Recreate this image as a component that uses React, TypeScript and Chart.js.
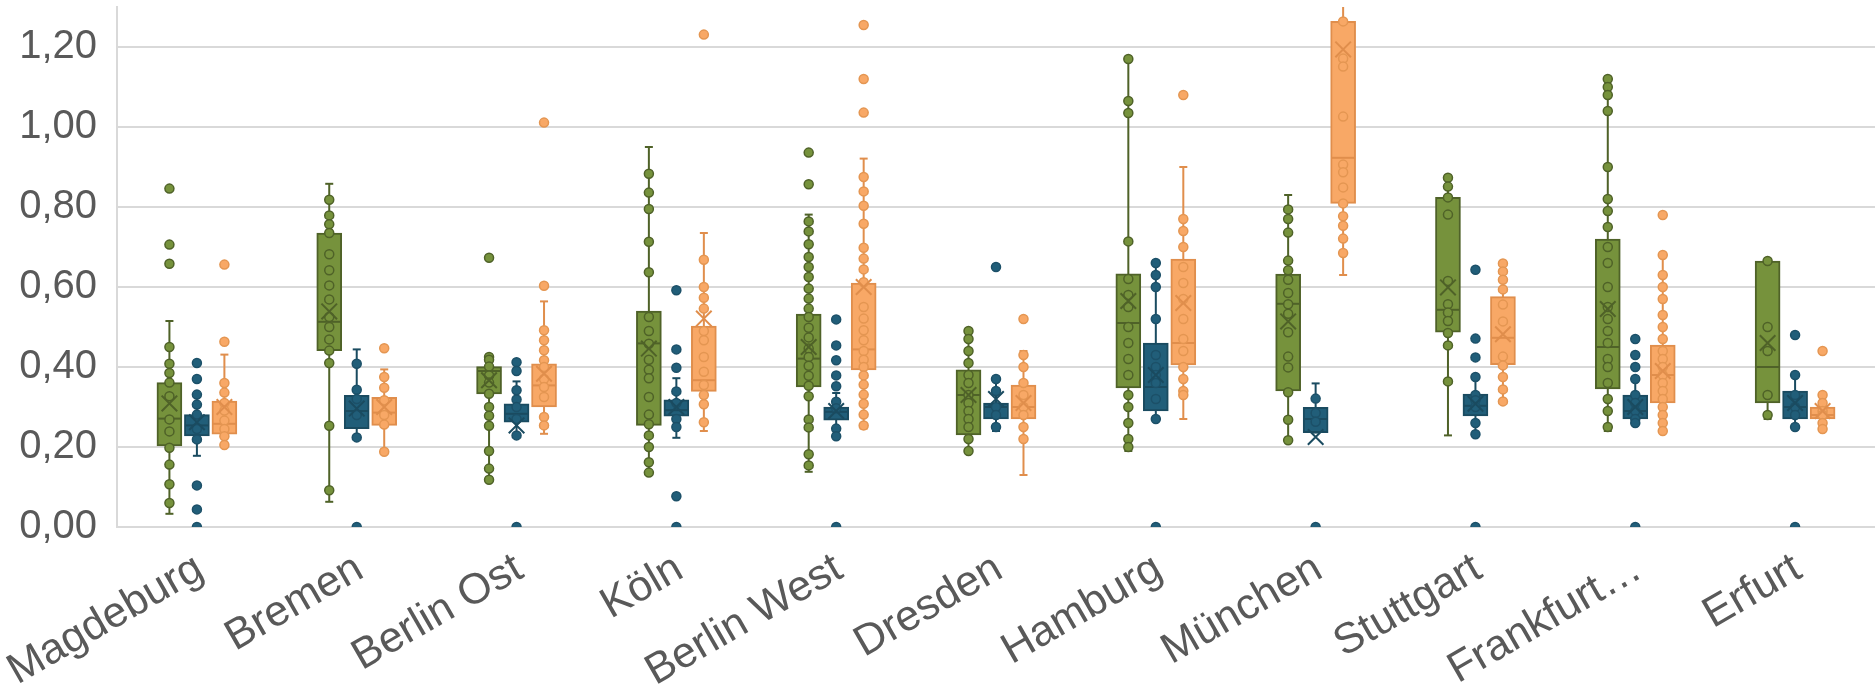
import React, { useEffect, useRef } from 'react';
import { Chart, registerables } from 'chart.js';

Chart.register(...registerables);

const categories = ['Magdeburg', 'Bremen', 'Berlin Ost', 'Köln', 'Berlin West', 'Dresden', 'Hamburg', 'München', 'Stuttgart', 'Frankfurt…', 'Erfurt'];
const yTickValues = [0, 0.2, 0.4, 0.6, 0.8, 1.0, 1.2];

// ---- green series ----
const greenQ1 = [0.203, 0.441, 0.333, 0.254, 0.35, 0.23, 0.348, 0.34, 0.487, 0.345, 0.31];
const greenMedian = [0.271, 0.513, 0.39, 0.459, 0.421, 0.33, 0.51, 0.558, 0.543, 0.45, 0.40];
const greenQ3 = [0.361, 0.735, 0.401, 0.54, 0.532, 0.393, 0.633, 0.632, 0.824, 0.72, 0.665];
const greenMean = [0.309, 0.539, 0.367, 0.446, 0.45, 0.33, 0.565, 0.514, 0.599, 0.545, 0.46];
const greenLow = [0.033, 0.063, 0.118, 0.136, 0.138, 0.19, 0.19, 0.217, 0.229, 0.24, 0.27];
const greenHigh = [0.515, 0.858, 0.425, 0.95, 0.781, 0.49, 1.17, 0.83, 0.873, 1.12, 0.665];
const greenPoints = [
  [0.846, 0.706, 0.658, 0.450, 0.408, 0.385, 0.361, 0.327, 0.269, 0.239, 0.198, 0.156, 0.107, 0.060],
  [0.818, 0.779, 0.757, 0.735, 0.682, 0.642, 0.604, 0.569, 0.525, 0.5, 0.469, 0.441, 0.410, 0.253, 0.092],
  [0.673, 0.425, 0.418, 0.401, 0.379, 0.361, 0.333, 0.300, 0.278, 0.253, 0.190, 0.146, 0.118],
  [0.883, 0.836, 0.795, 0.713, 0.637, 0.525, 0.49, 0.458, 0.418, 0.393, 0.372, 0.325, 0.281, 0.257, 0.229, 0.2, 0.162, 0.136],
  [0.936, 0.857, 0.764, 0.739, 0.707, 0.675, 0.65, 0.625, 0.596, 0.571, 0.546, 0.525, 0.498, 0.474, 0.446, 0.425, 0.403, 0.378, 0.353, 0.327, 0.269, 0.249, 0.182, 0.154],
  [0.49, 0.47, 0.44, 0.41, 0.38, 0.36, 0.33, 0.31, 0.29, 0.27, 0.25, 0.22, 0.19],
  [1.17, 1.065, 1.035, 0.714, 0.62, 0.58, 0.55, 0.50, 0.46, 0.42, 0.38, 0.33, 0.30, 0.26, 0.22, 0.20],
  [0.794, 0.770, 0.736, 0.666, 0.642, 0.618, 0.585, 0.557, 0.533, 0.487, 0.426, 0.399, 0.337, 0.268, 0.217],
  [0.873, 0.851, 0.824, 0.781, 0.615, 0.557, 0.536, 0.515, 0.485, 0.454, 0.364],
  [1.12, 1.10, 1.08, 1.04, 0.90, 0.82, 0.79, 0.75, 0.70, 0.66, 0.60, 0.55, 0.52, 0.49, 0.46, 0.42, 0.40, 0.36, 0.32, 0.29, 0.25],
  [0.665, 0.50, 0.44, 0.33, 0.28],
];

// ---- blue series ----
const blueQ1 = [0.228, 0.246, 0.262, 0.277, 0.267, 0.27, 0.29, 0.236, 0.278, 0.27, 0.27];
const blueMedian = [0.254, 0.29, 0.283, 0.292, 0.288, 0.30, 0.35, 0.27, 0.303, 0.29, 0.30];
const blueQ3 = [0.281, 0.329, 0.308, 0.318, 0.30, 0.31, 0.46, 0.299, 0.332, 0.33, 0.34];
const blueMean = [0.262, 0.296, 0.254, 0.30, 0.29, 0.32, 0.38, 0.225, 0.308, 0.30, 0.31];
const blueLow = [0.178, 0.224, 0.229, 0.223, 0.227, 0.24, 0.27, 0.236, 0.232, 0.26, 0.25];
const blueHigh = [0.331, 0.444, 0.364, 0.372, 0.335, 0.37, 0.66, 0.359, 0.375, 0.37, 0.38];
const bluePoints = [
  [0.410, 0.370, 0.331, 0.306, 0.281, 0.245, 0.219, 0.104, 0.044, 0],
  [0.408, 0.343, 0.32, 0.28, 0.224, 0],
  [0.412, 0.39, 0.342, 0.319, 0.30, 0.27, 0.229, 0],
  [0.592, 0.444, 0.398, 0.339, 0.31, 0.27, 0.25, 0.077, 0],
  [0.519, 0.454, 0.417, 0.379, 0.352, 0.313, 0.297, 0.246, 0.227, 0],
  [0.65, 0.37, 0.34, 0.30, 0.28, 0.25],
  [0.66, 0.63, 0.6, 0.52, 0.43, 0.40, 0.38, 0.36, 0.32, 0.27, 0],
  [0.321, 0.285, 0.263, 0],
  [0.643, 0.471, 0.424, 0.375, 0.330, 0.317, 0.30, 0.26, 0.232, 0],
  [0.47, 0.43, 0.40, 0.37, 0.33, 0.31, 0.29, 0.27, 0.26, 0],
  [0.48, 0.38, 0.33, 0.30, 0.28, 0.25, 0],
];

// ---- orange series ----
const orangeQ1 = [0.232, 0.254, 0.300, 0.339, 0.393, 0.27, 0.405, 0.809, 0.406, 0.31, 0.27];
const orangeMedian = [0.258, 0.286, 0.354, 0.367, 0.444, 0.30, 0.46, 0.923, 0.473, 0.38, 0.28];
const orangeQ3 = [0.315, 0.324, 0.408, 0.502, 0.61, 0.355, 0.67, 1.264, 0.576, 0.455, 0.30];
const orangeMean = [0.30, 0.30, 0.383, 0.521, 0.6, 0.31, 0.56, 1.194, 0.482, 0.39, 0.29];
const orangeLow = [0.205, 0.188, 0.233, 0.24, 0.246, 0.13, 0.27, 0.63, 0.314, 0.24, 0.245];
const orangeHigh = [0.431, 0.394, 0.564, 0.735, 0.921, 0.44, 0.90, 1.34, 0.659, 0.68, 0.33];
const orangePoints = [
  [0.656, 0.463, 0.360, 0.336, 0.31, 0.291, 0.266, 0.245, 0.227, 0.205],
  [0.447, 0.375, 0.348, 0.317, 0.28, 0.256, 0.188],
  [1.011, 0.603, 0.492, 0.467, 0.442, 0.417, 0.40, 0.37, 0.35, 0.325, 0.275, 0.254],
  [1.231, 0.668, 0.6, 0.573, 0.546, 0.49, 0.467, 0.425, 0.388, 0.355, 0.33, 0.307, 0.262],
  [1.255, 1.12, 1.036, 0.875, 0.839, 0.803, 0.758, 0.698, 0.671, 0.644, 0.612, 0.55, 0.521, 0.492, 0.467, 0.44, 0.418, 0.4, 0.379, 0.356, 0.331, 0.308, 0.281, 0.254],
  [0.52, 0.43, 0.40, 0.36, 0.33, 0.30, 0.28, 0.25, 0.22],
  [1.08, 0.77, 0.74, 0.70, 0.65, 0.61, 0.57, 0.52, 0.47, 0.44, 0.40, 0.37, 0.34, 0.33],
  [1.264, 1.171, 1.151, 1.026, 0.906, 0.887, 0.849, 0.809, 0.777, 0.753, 0.721, 0.685],
  [0.659, 0.639, 0.618, 0.594, 0.556, 0.514, 0.426, 0.404, 0.375, 0.344, 0.314],
  [0.78, 0.68, 0.63, 0.60, 0.57, 0.53, 0.50, 0.47, 0.44, 0.42, 0.40, 0.38, 0.36, 0.34, 0.32, 0.30, 0.28, 0.26, 0.24],
  [0.44, 0.33, 0.31, 0.29, 0.28, 0.26, 0.245],
];

const SERIES_OFFSET = 0.172; // in category units
const FONT = "'Liberation Sans', Arial, sans-serif";
const TEXT = '#595959';
const GRID = '#D9D9D9';

const series = [
  { q1: greenQ1, med: greenMedian, q3: greenQ3, mean: greenMean, low: greenLow, high: greenHigh, pts: greenPoints,
    fill: '#76923C', line: '#4F6228', ptFill: '#76923C', ptBorder: '#4F6228' },
  { q1: blueQ1, med: blueMedian, q3: blueQ3, mean: blueMean, low: blueLow, high: blueHigh, pts: bluePoints,
    fill: '#215E79', line: '#1A4B60', ptFill: '#215E79', ptBorder: '#1C5068' },
  { q1: orangeQ1, med: orangeMedian, q3: orangeQ3, mean: orangeMean, low: orangeLow, high: orangeHigh, pts: orangePoints,
    fill: '#F8A866', line: '#E08E4C', ptFill: '#F8A866', ptBorder: '#E49652' },
];

function buildDatasets() {
  const ds: any[] = [];
  series.forEach((s, k) => {
    const off = (k - 1) * SERIES_OFFSET;
    ds.push({
      type: 'bar', order: 40, grouped: false, barThickness: 25,
      data: s.q1.map((q, i) => ({ x: i + off, y: [q, s.q3[i]] })),
      backgroundColor: s.fill, borderColor: s.line, borderWidth: 2, borderSkipped: false,
    });
    ds.push({
      type: 'line', order: 50,
      data: s.low.flatMap((lo, i) => [{ x: i + off, y: lo }, { x: i + off, y: s.high[i] }, { x: i + off, y: null }]),
      borderColor: s.line, borderWidth: 2, pointRadius: 0, spanGaps: false, fill: false,
    });
    ds.push({
      type: 'scatter', order: 45,
      data: s.low.flatMap((lo, i) => [{ x: i + off, y: lo }, { x: i + off, y: s.high[i] }]),
      pointStyle: 'line', pointRadius: 4, borderColor: s.line, pointBorderWidth: 2,
    });
    ds.push({
      type: 'scatter', order: 35,
      data: s.med.map((m, i) => ({ x: i + off, y: m })),
      pointStyle: 'line', pointRadius: 12, borderColor: s.line, pointBorderWidth: 2,
    });
    ds.push({
      type: 'scatter', order: 20,
      data: s.pts.flatMap((arr, i) => arr.map((v) => ({ x: i + off, y: v }))),
      pointStyle: 'circle', pointRadius: 4.5, backgroundColor: s.ptFill, borderColor: s.ptBorder, pointBorderWidth: 1.5,
    });
    ds.push({
      type: 'scatter', order: 10,
      data: s.mean.map((m, i) => ({ x: i + off, y: m })),
      pointStyle: 'crossRot', pointRadius: 11, borderColor: s.line, pointBorderWidth: 2,
    });
  });
  return ds;
}

// Draws the category labels of the x scale, rotated, ending at each tick.
const rotatedLabels = {
  id: 'rotatedLabels',
  afterDraw(chart: any) {
    const scale = chart.scales.x;
    const ctx = chart.ctx;
    const ang = (30 * Math.PI) / 180;
    ctx.save();
    ctx.fillStyle = TEXT;
    ctx.font = `43px ${FONT}`;
    ctx.textAlign = 'right';
    ctx.textBaseline = 'alphabetic';
    (scale.ticks as any[]).forEach((t) => {
      const label = categories[Math.round(t.value)];
      if (label === undefined) return;
      const x = scale.getPixelForValue(t.value) + 9;
      const y = chart.chartArea.bottom + 49;
      ctx.save();
      ctx.setTransform(Math.cos(ang), -Math.sin(ang), Math.sin(ang), Math.cos(ang), x, y);
      ctx.fillText(label, 0, 0);
      ctx.restore();
    });
    ctx.restore();
  },
};

export default function App() {
  const ref = useRef<HTMLCanvasElement | null>(null);
  useEffect(() => {
    if (!ref.current) return;
    const chart = new Chart(ref.current, {
      type: 'scatter',
      data: { datasets: buildDatasets() },
      plugins: [rotatedLabels],
      options: {
        animation: false,
        responsive: false,
        devicePixelRatio: 1,
        events: [],
        layout: { autoPadding: false, padding: { top: 7, right: 0, left: 0, bottom: 0 } },
        plugins: { legend: { display: false }, tooltip: { enabled: false } },
        scales: {
          x: {
            type: 'linear', min: -0.5, max: 10.5, offset: false,
            grid: { display: false, drawTicks: false, offset: false },
            border: { display: false },
            afterBuildTicks: (scale: any) => {
              scale.ticks = categories.map((_, i) => ({ value: i }));
            },
            ticks: { display: false, autoSkip: false },
            afterFit: (scale: any) => {
              scale.height = 162;
              scale.paddingLeft = 0; scale.paddingRight = 0; scale.paddingTop = 0; scale.paddingBottom = 0;
            },
          },
          y: {
            type: 'linear', min: 0, max: 1.3,
            ticks: {
              color: TEXT, font: { family: FONT, size: 40 }, padding: 20,
              callback: (v: any) => Number(v).toFixed(2).replace('.', ','),
            },
            afterBuildTicks: (scale: any) => {
              scale.ticks = yTickValues.map((v) => ({ value: v }));
            },
            grid: { color: GRID, lineWidth: 2, drawTicks: false },
            border: { display: true, color: GRID, width: 2 },
            afterFit: (scale: any) => {
              scale.width = 117;
              scale.paddingLeft = 0; scale.paddingRight = 0; scale.paddingTop = 0; scale.paddingBottom = 0;
            },
          },
        },
      } as any,
    });
    return () => chart.destroy();
  }, []);
  return (
    <div style={{ position: 'absolute', left: 0, top: 0, width: 1875, height: 689, background: '#fff' }}>
      <canvas ref={ref} width={1875} height={689} />
    </div>
  );
}
